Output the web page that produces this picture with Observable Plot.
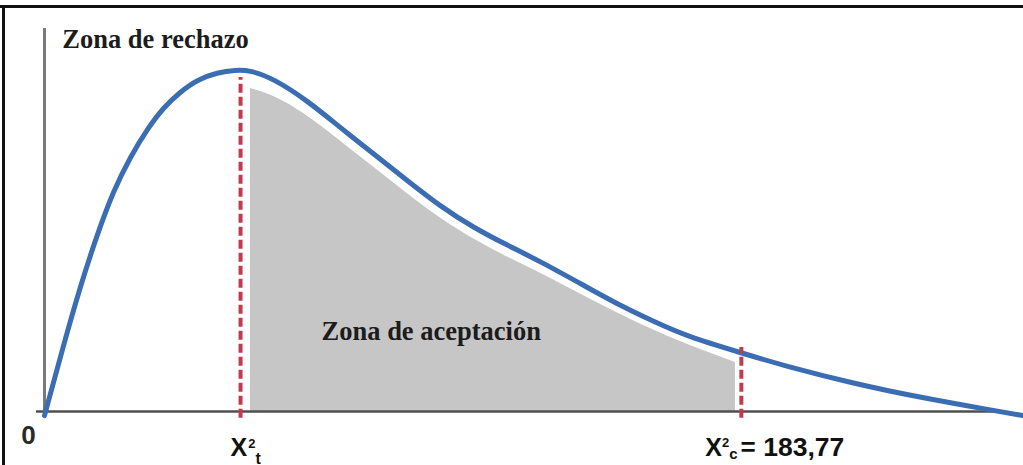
<!DOCTYPE html>
<html>
<head>
<meta charset="utf-8">
<script src="https://cdn.jsdelivr.net/npm/d3@7"></script>
<script src="https://cdn.jsdelivr.net/npm/@observablehq/plot@0.6"></script>
<style>
  html, body { margin: 0; padding: 0; background: #fff; }
  #wrap { position: relative; width: 1023px; height: 465px; overflow: hidden; }
  #wrap svg { position: absolute; left: 0; top: 0; }
  .bt { position: absolute; left: 0; top: 5px; width: 1023px; height: 2.5px; background: #111; }
  .bl { position: absolute; left: 2px; top: 5px; width: 2.5px; height: 460px; background: #111; }
</style>
</head>
<body>
<div id="wrap"></div>
<script>
// Density curve (x in chi-square units, y relative density)
const curveX = [0, 5.0, 9.5, 14.0, 18.2, 22.7, 27.2, 31.4, 35.9, 40.3, 45.6, 50.4, 54.3, 60.4, 69.3, 78.0, 86.7, 95.7, 104.4, 113.1, 122.1, 130.8, 143.2, 151.9, 160.6, 169.5, 183.5, 195.9, 213.3, 230.9, 250.2, 258.1];
const curveY = [-0.012, 0.193, 0.368, 0.520, 0.645, 0.745, 0.826, 0.888, 0.934, 0.969, 0.990, 0.997, 0.996, 0.972, 0.908, 0.829, 0.753, 0.674, 0.599, 0.537, 0.485, 0.438, 0.362, 0.309, 0.263, 0.219, 0.172, 0.131, 0.082, 0.041, 0.003, -0.012];

// Acceptance zone (gray fill) upper edge
const fillX = [54.3, 60.4, 69.3, 78.0, 86.7, 95.7, 104.4, 113.1, 122.1, 130.8, 143.2, 151.9, 160.6, 169.5, 182.2];
const fillY = [0.943, 0.924, 0.866, 0.790, 0.714, 0.636, 0.563, 0.503, 0.450, 0.405, 0.332, 0.283, 0.237, 0.195, 0.143];

// Critical values
const xTab = 51.7;      // X²t
const xCalc = 183.77;   // X²c
const xTabTop = 0.975;
const xCalcTop = 0.187;

const zoneLabels = ["Zona de rechazo", "Zona de aceptación"];
const originLabel = ["0"];
const tabLabel = ["X2t"];
const calcLabel = ["X2c= 183,77"];

const curve = curveX.map((x, i) => ({x, y: curveY[i]}));
const fill = fillX.map((x, i) => ({x, y: fillY[i]}));

const serif = "'Liberation Serif', 'DejaVu Serif', serif";
const sans = "'Liberation Sans', Arial, sans-serif";

const chart = Plot.plot({
  width: 1023,
  height: 465,
  marginLeft: 44,
  marginRight: 31,
  marginTop: 0,
  marginBottom: 54,
  x: {domain: [0, 250], axis: null},
  y: {domain: [0, 1.2], axis: null},
  style: {background: "transparent", overflow: "visible"},
  marks: [
    Plot.areaY(fill, {x: "x", y: "y", fill: "#c6c6c6", curve: "basis"}),
    Plot.line(curve, {x: "x", y: "y", stroke: "#ffffff", strokeWidth: 11, curve: "basis"}),
    Plot.ruleX([0], {y1: 0, y2: 1.118, stroke: "#7a7a7a", strokeWidth: 3}),
    Plot.ruleY([0], {x1: -2.1, x2: 252, stroke: "#4f4f4f", strokeWidth: 2.5}),
    Plot.line(curve, {x: "x", y: "y", stroke: "#3b6db3", strokeWidth: 5, curve: "basis"}),
    Plot.ruleX([xTab], {y1: -0.02, y2: xTabTop, stroke: "#c23a4e", strokeWidth: 4, strokeDasharray: "9,4"}),
    Plot.ruleX([xCalc], {y1: -0.02, y2: xCalcTop, stroke: "#c23a4e", strokeWidth: 4, strokeDasharray: "9,4"}),
    Plot.text([zoneLabels[0]], {x: 4.7, y: 1.06, text: d => d, textAnchor: "start", lineAnchor: "bottom", fontFamily: serif, fontWeight: "bold", fontSize: 26.5, fill: "#1c1c1c"}),
    Plot.text([zoneLabels[1]], {x: 102.0, y: 0.21, text: d => d, textAnchor: "middle", lineAnchor: "bottom", fontFamily: serif, fontWeight: "bold", fontSize: 26.5, fill: "#1c1c1c"}),
    Plot.text(originLabel, {x: -4.2, y: 0, dy: 32, text: d => d, textAnchor: "middle", lineAnchor: "bottom", fontFamily: sans, fontWeight: "bold", fontSize: 26, fill: "#2a2a2a"}),
    Plot.text(tabLabel, {x: xTab, y: 0, dx: -10, dy: 44, text: d => d, textAnchor: "start", lineAnchor: "bottom", fontFamily: sans, fontWeight: "bold", fontSize: 25, fill: "#111"}),
    Plot.text(calcLabel, {x: xCalc, y: 0, dx: -36, dy: 44, text: d => d, textAnchor: "start", lineAnchor: "bottom", fontFamily: sans, fontWeight: "bold", fontSize: 25, fill: "#111"})
  ]
});

// Rich formatting (superscript / subscript) of the critical value labels
function rich(textEl, parts) {
  while (textEl.firstChild) textEl.removeChild(textEl.firstChild);
  for (const p of parts) {
    const t = document.createElementNS("http://www.w3.org/2000/svg", "tspan");
    t.textContent = p.s;
    if (p.size) t.setAttribute("font-size", p.size);
    if (p.dx) t.setAttribute("dx", p.dx);
    if (p.dy) t.setAttribute("dy", p.dy);
    textEl.appendChild(t);
  }
}
chart.querySelectorAll("text").forEach(el => {
  const s = el.textContent;
  if (s === tabLabel[0]) {
    rich(el, [
      {s: "X", size: 25},
      {s: "2", size: 13, dx: 1, dy: -8},
      {s: "t", size: 16, dx: 0, dy: 16}
    ]);
  } else if (s === calcLabel[0]) {
    rich(el, [
      {s: "X", size: 25},
      {s: "2", size: 13, dx: 0, dy: -9},
      {s: "c", size: 15, dx: 0, dy: 12},
      {s: "=", size: 26, dx: 3, dy: -3},
      {s: " 183,77", size: 26.5}
    ]);
  }
});

const wrap = document.getElementById("wrap");
wrap.appendChild(chart);
const bt = document.createElement("div"); bt.className = "bt"; wrap.appendChild(bt);
const bl = document.createElement("div"); bl.className = "bl"; wrap.appendChild(bl);
</script>
</body>
</html>
